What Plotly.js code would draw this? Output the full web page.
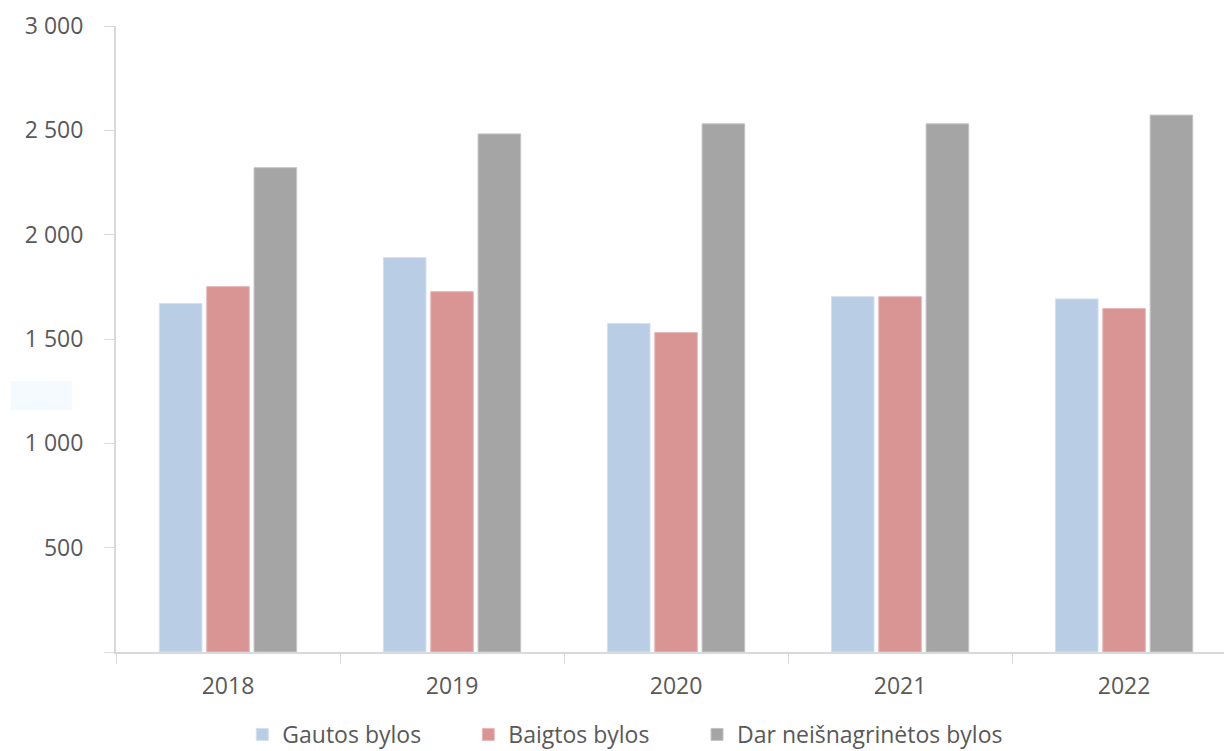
<!DOCTYPE html>
<html>
<head>
<meta charset="utf-8">
<script src="https://cdn.plot.ly/plotly-3.0.1.min.js"></script>
<style>html,body{margin:0;padding:0;background:#fff;}#chart{width:1224px;height:751px;}</style>
</head>
<body>
<div id="chart"></div>
<script>
const years = ['2018', '2019', '2020', '2021', '2022'];
const gautos = [1670, 1890, 1574, 1703, 1692];
const baigtos = [1751, 1727, 1531, 1703, 1646];
const dar = [2321, 2483, 2531, 2531, 2573];
const seriesNames = ['Gautos bylos', 'Baigtos bylos', 'Dar neišnagrinėtos bylos'];
const yTickVals = [0, 500, 1000, 1500, 2000, 2500, 3000];
const yTickText = ['', '500', '1 000', '1 500', '2 000', '2 500', '3 000'];

const colors = ['#b9cde4', '#d99594', '#a5a5a5'];
const lineColors = ['#d3e0ef', '#e8b9b8', '#c4c4c4'];
const legendIds = ['legend', 'legend', 'legend2'];
const vals = [gautos, baigtos, dar];

const traces = vals.map((v, i) => ({
  type: 'bar',
  x: years,
  y: v,
  name: seriesNames[i],
  legend: legendIds[i],
  marker: {color: colors[i], line: {color: lineColors[i], width: 1}},
  hoverinfo: 'x+y+name'
}));

const textColor = '#595959';
const legendBase = {
  orientation: 'h',
  yref: 'container', y: 0.022, yanchor: 'middle',
  xanchor: 'left',
  font: {size: 23, color: textColor},
  traceorder: 'normal',
  itemwidth: 30,
  bgcolor: 'rgba(0,0,0,0)'
};
const layout = {
  width: 1224,
  height: 751,
  margin: {l: 116, r: 0, t: 26, b: 99, autoexpand: false},
  paper_bgcolor: '#ffffff',
  plot_bgcolor: '#ffffff',
  font: {family: '"Open Sans", sans-serif', size: 23, color: textColor},
  barmode: 'group',
  bargap: 0.366,
  bargroupgap: 0.1,
  showlegend: true,
  legend: Object.assign({}, legendBase, {x: 0.114, entrywidth: 181, entrywidthmode: 'pixels'}),
  legend2: Object.assign({}, legendBase, {x: 0.5244}),
  xaxis: {
    type: 'category',
    range: [-0.5, 4.446],
    showline: true,
    linecolor: '#d9d9d9',
    linewidth: 2,
    ticks: 'outside',
    tickson: 'boundaries',
    ticklen: 10,
    tickcolor: '#d9d9d9',
    tickwidth: 1,
    ticklabelstandoff: 12,
    showgrid: false,
    zeroline: false,
    tickfont: {size: 23, color: textColor}
  },
  yaxis: {
    range: [0, 3000],
    tickmode: 'array',
    tickvals: yTickVals,
    ticktext: yTickText,
    showline: true,
    linecolor: '#d9d9d9',
    linewidth: 2,
    ticks: 'outside',
    ticklen: 10,
    tickcolor: '#d9d9d9',
    tickwidth: 1,
    ticklabelstandoff: 16,
    showgrid: false,
    zeroline: false,
    tickfont: {size: 23, color: textColor}
  },
  shapes: [{
    type: 'rect', xref: 'paper', yref: 'paper',
    x0: -0.095, x1: -0.04, y0: 0.386, y1: 0.433,
    fillcolor: '#f5faff', line: {width: 0}, layer: 'below'
  }]
};

Plotly.newPlot('chart', traces, layout, {displayModeBar: false, staticPlot: true});
</script>
</body>
</html>
